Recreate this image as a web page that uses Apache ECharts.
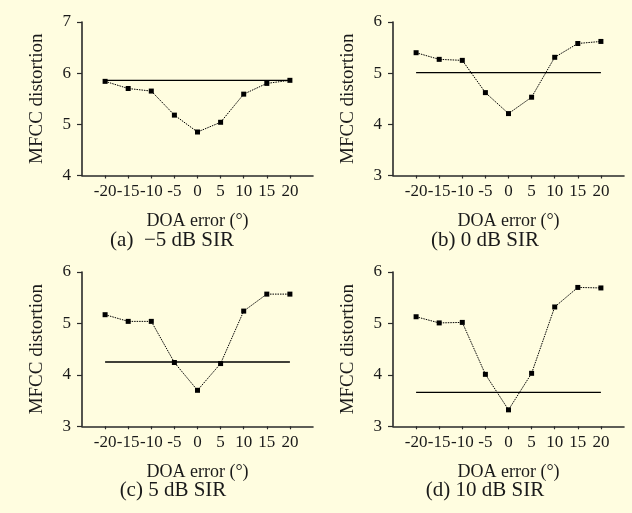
<!DOCTYPE html>
<html>
<head>
<meta charset="utf-8">
<script src="https://cdn.jsdelivr.net/npm/echarts@6/dist/echarts.min.js"></script>
<style>
html,body{margin:0;padding:0;background:#FFFDE0;}
#chart{width:632px;height:513px;}
</style>
</head>
<body>
<div id="chart"></div>
<script>
// DOA error categories (degrees)
const doaErrors = [-20, -15, -10, -5, 0, 5, 10, 15, 20];
const xTickLabels = [-20, -15, -10, -5, 0, 5, 10, 15, 20];

// MFCC distortion per panel (dotted line with squares)
const distA = [5.84, 5.70, 5.65, 5.18, 4.85, 5.04, 5.59, 5.80, 5.86];
const distB = [5.40, 5.27, 5.25, 4.62, 4.21, 4.53, 5.31, 5.58, 5.62];
const distC = [5.17, 5.04, 5.04, 4.24, 3.70, 4.22, 5.24, 5.57, 5.57];
const distD = [5.13, 5.01, 5.02, 4.01, 3.32, 4.03, 5.32, 5.70, 5.69];

// Reference level (solid horizontal line) per panel
const refA = 5.86;
const refB = 5.01;
const refC = 4.25;
const refD = 3.66;

// Y ranges per panel
const yRangeA = [4, 7];
const yRangeB = [3, 6];
const yRangeC = [3, 6];
const yRangeD = [3, 6];

const captions = ['(a)  \u22125 dB SIR', '(b) 0 dB SIR', '(c) 5 dB SIR', '(d) 10 dB SIR'];
const xName = 'DOA error (\u00b0)';
const yName = 'MFCC distortion';

const panels = [
  {dist: distA, ref: refA, yr: yRangeA},
  {dist: distB, ref: refB, yr: yRangeB},
  {dist: distC, ref: refC, yr: yRangeC},
  {dist: distD, ref: refD, yr: yRangeD}
];

const FONT = '"Liberation Serif", "Times New Roman", serif';
const AXC = '#2a2a2a';
const TXT = '#1a1a1a';

const grids = [
  {left: 82, top: 22, width: 231, height: 153.5},
  {left: 393, top: 22, width: 231, height: 153.5},
  {left: 82, top: 272, width: 231, height: 154.3},
  {left: 393, top: 272, width: 231, height: 154.3}
];

const xAxes = [], yAxes = [], series = [];
panels.forEach((p, i) => {
  xAxes.push({
    type: 'value', gridIndex: i, min: -25, max: 25, interval: 5,
    name: xName, nameLocation: 'middle', nameGap: 37,
    nameTextStyle: {fontFamily: FONT, fontSize: 18, color: TXT},
    axisLine: {show: true, onZero: false, lineStyle: {color: AXC, width: 1.6}},
    axisTick: {show: true, length: 3, customValues: xTickLabels, lineStyle: {color: AXC, width: 1.2}},
    axisLabel: {fontFamily: FONT, fontSize: 17, color: TXT, margin: 8, customValues: xTickLabels},
    splitLine: {show: false}
  });
  yAxes.push({
    type: 'value', gridIndex: i, min: p.yr[0], max: p.yr[1], interval: 1,
    name: yName, nameLocation: 'middle', nameGap: 35,
    nameTextStyle: {fontFamily: FONT, fontSize: 19, color: TXT},
    axisLine: {show: true, onZero: false, lineStyle: {color: AXC, width: 1.6}},
    axisTick: {show: true, length: 5, lineStyle: {color: AXC, width: 1.2}},
    axisLabel: {fontFamily: FONT, fontSize: 17, color: TXT, margin: 11},
    splitLine: {show: false}
  });
  series.push({
    type: 'line', xAxisIndex: i, yAxisIndex: i,
    data: doaErrors.map((d, k) => [d, p.dist[k]]),
    symbol: 'rect', symbolSize: 5, showSymbol: true,
    itemStyle: {color: '#000'},
    lineStyle: {color: '#000', width: 1, type: [1.5, 1]},
    animation: false, z: 3
  });
  series.push({
    type: 'line', xAxisIndex: i, yAxisIndex: i,
    data: [[doaErrors[0], p.ref], [doaErrors[doaErrors.length - 1], p.ref]],
    symbol: 'none',
    lineStyle: {color: '#000', width: 1.3, type: 'solid'},
    animation: false, z: 2
  });
});

const capPos = [[172, 240], [485, 240], [173, 490], [485, 490]];
const graphic = captions.map((t, i) => ({
  type: 'text', x: capPos[i][0], y: capPos[i][1],
  style: {text: t, fontFamily: FONT, fontSize: 21, fill: TXT, textAlign: 'center', textVerticalAlign: 'middle'}
}));

const chart = echarts.init(document.getElementById('chart'), null, {renderer: 'canvas'});
chart.setOption({
  backgroundColor: '#FFFDE0',
  animation: false,
  grid: grids,
  xAxis: xAxes,
  yAxis: yAxes,
  series: series,
  graphic: graphic
});
</script>
</body>
</html>
